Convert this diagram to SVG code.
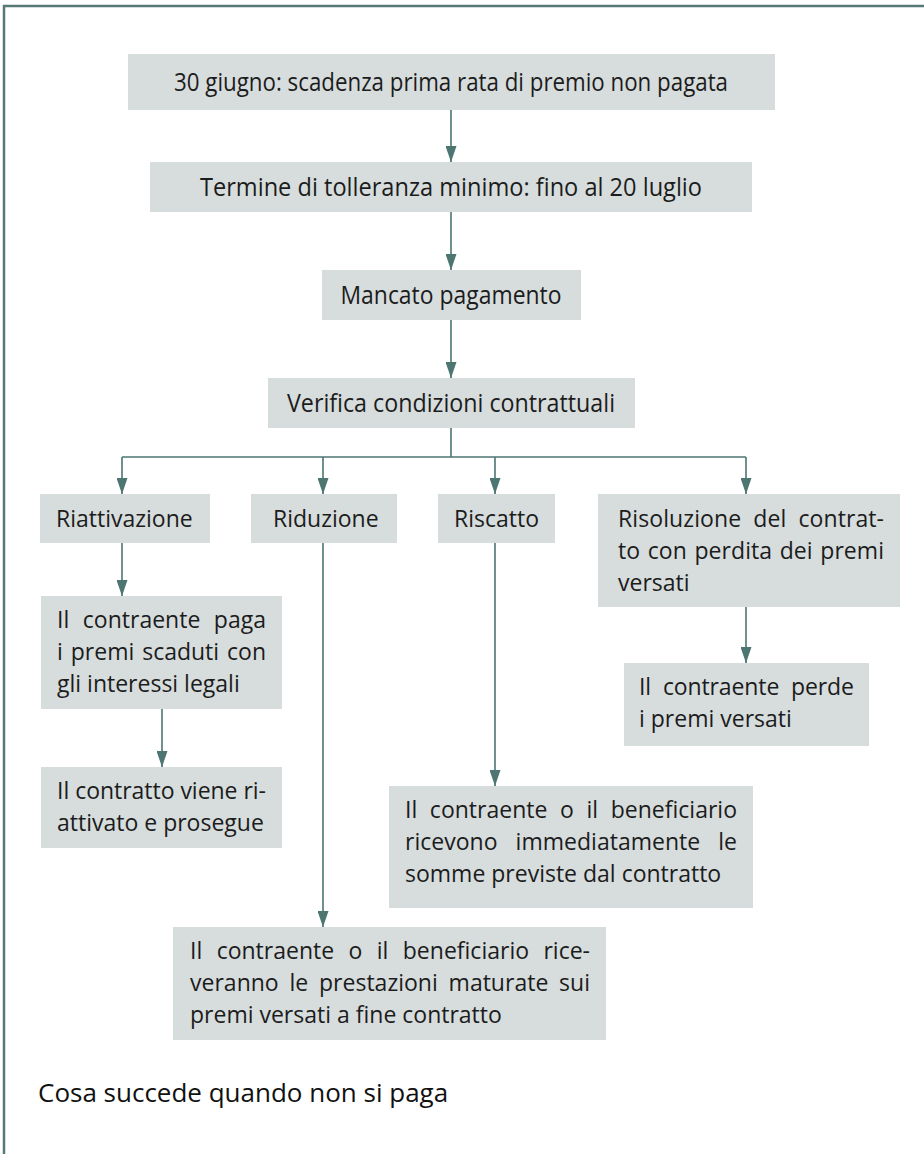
<svg xmlns="http://www.w3.org/2000/svg" width="924" height="1154" viewBox="0 0 924 1154">
<style>
.box{fill:#d7dddc}
.hd{font-family:"Open Sans","DejaVu Sans",sans-serif;font-size:25px;fill:#1c1c1c;text-anchor:middle}
.tx{font-family:"Open Sans","DejaVu Sans",sans-serif;font-size:23px;fill:#1c1c1c}
.ln{fill:none;stroke:#4d7572;stroke-width:1.6}
.cap{font-family:"Open Sans","DejaVu Sans",sans-serif;font-size:26px;fill:#111}
</style>
<defs>
<marker id="ah" viewBox="0 0 16 11" refX="16" refY="5.5" markerWidth="16" markerHeight="11" markerUnits="userSpaceOnUse" orient="auto">
<path d="M0,0 L16,5.5 L0,11 z" fill="#4d7572"/>
</marker>
</defs>
<rect x="0" y="0" width="924" height="1154" fill="#fff"/>
<path d="M4,1154 V6 H924" fill="none" stroke="#557976" stroke-width="2.5"/>

<g id="connectors">
<path class="ln" d="M451,110 V162" marker-end="url(#ah)"/>
<path class="ln" d="M451,212 V270" marker-end="url(#ah)"/>
<path class="ln" d="M451,320 V378" marker-end="url(#ah)"/>
<path class="ln" d="M451,428 V457 M122,457 H746"/>
<path class="ln" d="M122,457 V494" marker-end="url(#ah)"/>
<path class="ln" d="M323,457 V494" marker-end="url(#ah)"/>
<path class="ln" d="M495,457 V494" marker-end="url(#ah)"/>
<path class="ln" d="M746,457 V494" marker-end="url(#ah)"/>
<path class="ln" d="M122,543 V596" marker-end="url(#ah)"/>
<path class="ln" d="M162,709 V767" marker-end="url(#ah)"/>
<path class="ln" d="M323,543 V927" marker-end="url(#ah)"/>
<path class="ln" d="M495,543 V786" marker-end="url(#ah)"/>
<path class="ln" d="M746,607 V663" marker-end="url(#ah)"/>
</g>

<g id="n1">
<rect class="box" x="128" y="54" width="647" height="56"/>
<text class="hd" x="451" y="91" textLength="554" lengthAdjust="spacingAndGlyphs">30 giugno: scadenza prima rata di premio non pagata</text>
</g>
<g id="n2">
<rect class="box" x="150" y="162" width="602" height="50"/>
<text class="hd" x="451" y="196" textLength="502" lengthAdjust="spacingAndGlyphs">Termine di tolleranza minimo: fino al 20 luglio</text>
</g>
<g id="n3">
<rect class="box" x="322" y="270" width="259" height="50"/>
<text class="hd" x="451" y="304" textLength="221" lengthAdjust="spacingAndGlyphs">Mancato pagamento</text>
</g>
<g id="n4">
<rect class="box" x="268" y="378" width="367" height="50"/>
<text class="hd" x="451" y="412" textLength="328" lengthAdjust="spacingAndGlyphs">Verifica condizioni contrattuali</text>
</g>

<g id="n5">
<rect class="box" x="40" y="494" width="170" height="49"/>
<text class="tx" x="56" y="527">Riattivazione</text>
</g>
<g id="n6">
<rect class="box" x="251" y="494" width="146" height="49"/>
<text class="tx" x="273" y="527">Riduzione</text>
</g>
<g id="n7">
<rect class="box" x="438" y="494" width="117" height="49"/>
<text class="tx" x="454" y="527">Riscatto</text>
</g>
<g id="n8">
<rect class="box" x="598" y="494" width="302" height="113"/>
<text class="tx" x="618" y="527" word-spacing="6" textLength="266" lengthAdjust="spacing">Risoluzione del contrat-</text>
<text class="tx" x="618" y="559" word-spacing="1.5" textLength="266" lengthAdjust="spacing">to con perdita dei premi</text>
<text class="tx" x="618" y="591">versati</text>
</g>

<g id="n9">
<rect class="box" x="41" y="596" width="241" height="113"/>
<text class="tx" x="57" y="628" word-spacing="7.5" textLength="209" lengthAdjust="spacing">Il contraente paga</text>
<text class="tx" x="57" y="660" word-spacing="2" textLength="209" lengthAdjust="spacing">i premi scaduti con</text>
<text class="tx" x="57" y="692">gli interessi legali</text>
</g>
<g id="n10">
<rect class="box" x="41" y="767" width="241" height="81"/>
<text class="tx" x="57" y="799" textLength="209" lengthAdjust="spacing">Il contratto viene ri-</text>
<text class="tx" x="57" y="831">attivato e prosegue</text>
</g>

<g id="n11">
<rect class="box" x="624" y="663" width="245" height="83"/>
<text class="tx" x="639" y="695" word-spacing="6" textLength="215" lengthAdjust="spacing">Il contraente perde</text>
<text class="tx" x="639" y="727">i premi versati</text>
</g>

<g id="n12">
<rect class="box" x="389" y="786" width="364" height="122"/>
<text class="tx" x="405" y="818" word-spacing="6.6" textLength="332" lengthAdjust="spacing">Il contraente o il beneficiario</text>
<text class="tx" x="405" y="850" word-spacing="12" textLength="332" lengthAdjust="spacing">ricevono immediatamente le</text>
<text class="tx" x="405" y="882">somme previste dal contratto</text>
</g>

<g id="n13">
<rect class="box" x="173" y="927" width="433" height="113"/>
<text class="tx" x="190" y="959" word-spacing="8.4" textLength="400" lengthAdjust="spacing">Il contraente o il beneficiario rice-</text>
<text class="tx" x="190" y="991" word-spacing="4.8" textLength="400" lengthAdjust="spacing">veranno le prestazioni maturate sui</text>
<text class="tx" x="190" y="1023">premi versati a fine contratto</text>
</g>

<text class="cap" x="38" y="1102">Cosa succede quando non si paga</text>
</svg>
